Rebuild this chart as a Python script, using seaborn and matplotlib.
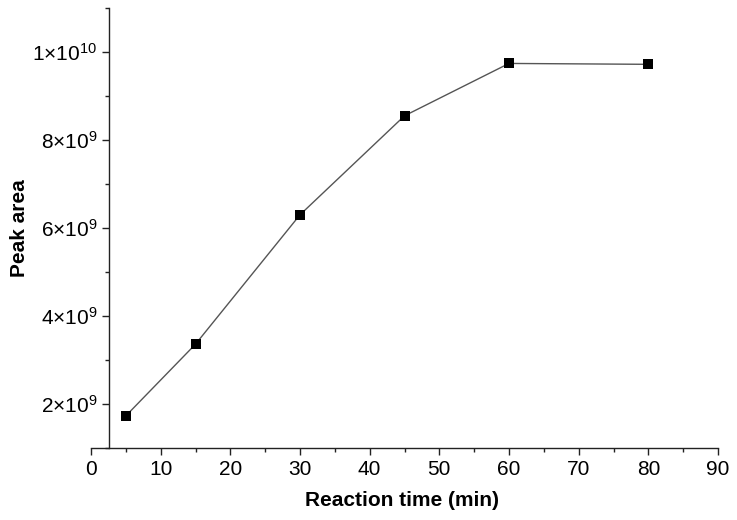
import matplotlib
matplotlib.use("Agg")
import matplotlib.pyplot as plt
import seaborn as sns
import pandas as pd
from matplotlib.ticker import MultipleLocator, FuncFormatter

# Reaction time (min) vs peak area
reaction_time = [5, 15, 30, 45, 60, 80]
peak_area = [1.73e9, 3.36e9, 6.30e9, 8.55e9, 9.74e9, 9.72e9]

sns.set_style("ticks")
plt.rcParams['font.family'] = ['Liberation Sans', 'DejaVu Sans']
plt.rcParams['mathtext.fontset'] = 'custom'
plt.rcParams['mathtext.rm'] = 'Liberation Sans'
plt.rcParams['mathtext.it'] = 'Liberation Sans'
plt.rcParams['text.color'] = 'black'
plt.rcParams['axes.labelcolor'] = 'black'

df = pd.DataFrame({'time': reaction_time, 'area': peak_area})

fig = plt.figure(figsize=(7.37, 5.2), dpi=100)
ax = fig.add_axes([91 / 737, 1 - 448 / 520, (718 - 91) / 737, 440 / 520])

sns.lineplot(data=df, x='time', y='area', ax=ax, color='#555555', linewidth=1.0,
             marker='s', markersize=7.5, markerfacecolor='black',
             markeredgecolor='black', markeredgewidth=0)

ax.set_xlim(0, 90)
ax.set_ylim(1e9, 1.1e10)
ax.spines['right'].set_visible(False)
ax.spines['top'].set_visible(False)
ax.spines['left'].set_position(('data', 2.6))
for s in ['left', 'bottom']:
    ax.spines[s].set_linewidth(1.0)
    ax.spines[s].set_color('#222222')

ax.xaxis.set_major_locator(MultipleLocator(10))
ax.xaxis.set_minor_locator(MultipleLocator(5))
ax.yaxis.set_major_locator(MultipleLocator(2e9))
ax.yaxis.set_minor_locator(MultipleLocator(1e9))


def sci_fmt(v, pos):
    if v <= 0:
        return ''
    exp = 0
    m = v
    while m >= 10:
        m /= 10
        exp += 1
    return r'$%d{\times}10^{%d}$' % (round(m), exp)


ax.yaxis.set_major_formatter(FuncFormatter(sci_fmt))
ax.tick_params(axis='both', which='major', direction='out', length=5, width=1,
               labelsize=15, colors='#222222', labelcolor='black')
ax.tick_params(axis='both', which='minor', direction='out', length=3, width=1,
               colors='#222222')

ax.set_xlabel('Reaction time (min)', fontsize=15, fontweight='bold')
ax.set_ylabel('Peak area', fontsize=15, fontweight='bold')
ax.xaxis.label.set_va('center')
ax.yaxis.label.set_va('center')
ax.xaxis.set_label_coords((402 - 91) / 627, (448 - 500) / 440)
ax.yaxis.set_label_coords((20 - 91) / 627, (448 - 228) / 440)

fig.savefig('out.png', dpi=100)
